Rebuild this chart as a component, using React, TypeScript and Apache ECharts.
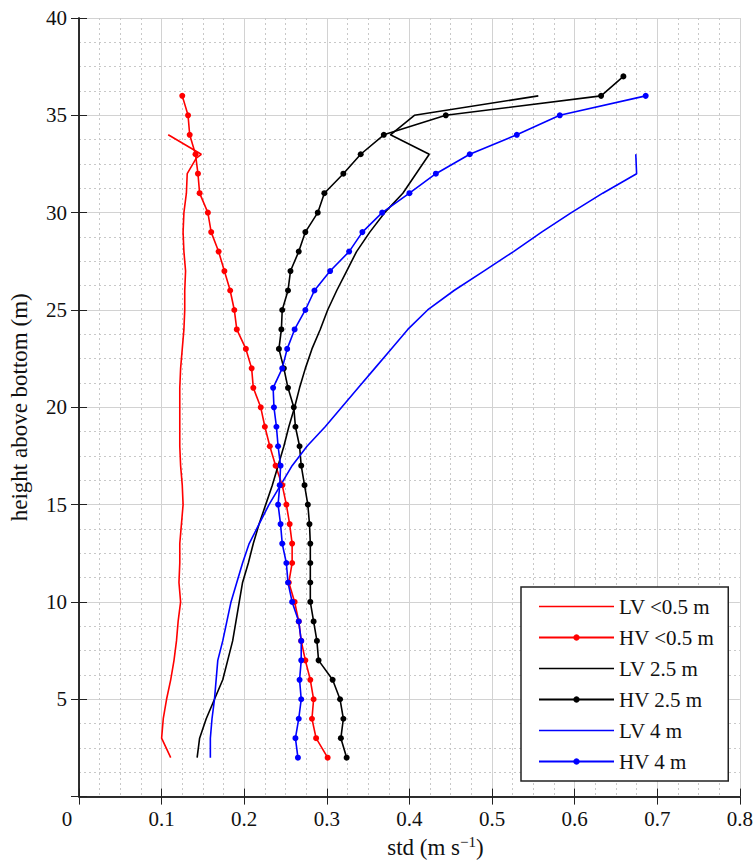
import React, { useEffect, useRef } from "react";
import * as echarts from "echarts";

// ---- data (std in m/s, height in m) ----
const lvRedHeights = [2, 3, 4, 5, 6, 7, 8, 9, 10, 11, 12, 13, 14, 15, 16, 17, 18, 19, 20, 21, 22, 23, 24, 25, 26, 27, 28, 29, 30, 31, 32, 32.8, 33, 34];
const lvRedStd = [0.111, 0.1, 0.102, 0.106, 0.111, 0.115, 0.118, 0.12, 0.123, 0.121, 0.122, 0.122, 0.124, 0.126, 0.125, 0.123, 0.122, 0.122, 0.122, 0.122, 0.123, 0.125, 0.127, 0.128, 0.128, 0.129, 0.127, 0.126, 0.127, 0.13, 0.131, 0.142, 0.148, 0.108];

const hvRedHeights = [2, 3, 4, 5, 6, 7, 8, 9, 10, 11, 12, 13, 14, 15, 16, 17, 18, 19, 20, 21, 22, 23, 24, 25, 26, 27, 28, 29, 30, 31, 32, 33, 34, 35, 36];
const hvRedStd = [0.301, 0.287, 0.282, 0.284, 0.28, 0.274, 0.269, 0.266, 0.261, 0.254, 0.258, 0.258, 0.255, 0.251, 0.246, 0.238, 0.231, 0.225, 0.22, 0.211, 0.209, 0.202, 0.191, 0.188, 0.183, 0.176, 0.169, 0.16, 0.156, 0.146, 0.144, 0.141, 0.134, 0.132, 0.125];

const lvBlackHeights = [2, 3, 4, 5, 6, 7, 8, 9, 10, 11, 12, 13, 14, 15, 16, 17, 18, 19, 20, 21, 22, 23, 24, 25, 26, 27, 28, 29, 30, 31, 32, 33, 34, 35, 36];
const lvBlackStd = [0.143, 0.146, 0.154, 0.164, 0.174, 0.18, 0.186, 0.19, 0.194, 0.198, 0.205, 0.211, 0.218, 0.226, 0.234, 0.241, 0.248, 0.254, 0.261, 0.267, 0.274, 0.282, 0.292, 0.301, 0.312, 0.324, 0.336, 0.352, 0.37, 0.392, 0.408, 0.424, 0.377, 0.406, 0.556];

const hvBlackHeights = [2, 3, 4, 5, 6, 7, 8, 9, 10, 11, 12, 13, 14, 15, 16, 17, 18, 19, 20, 21, 22, 23, 24, 25, 26, 27, 28, 29, 30, 31, 32, 33, 34, 35, 36, 37];
const hvBlackStd = [0.324, 0.317, 0.32, 0.316, 0.307, 0.29, 0.288, 0.284, 0.28, 0.28, 0.28, 0.28, 0.279, 0.277, 0.273, 0.269, 0.267, 0.262, 0.26, 0.253, 0.248, 0.242, 0.245, 0.246, 0.253, 0.256, 0.266, 0.274, 0.289, 0.297, 0.32, 0.341, 0.369, 0.444, 0.632, 0.659];

const lvBlueHeights = [2, 3, 4, 5, 6, 7, 8, 9, 10, 11, 12, 13, 14, 15, 16, 17, 18, 19, 20, 21, 22, 23, 24, 25, 26, 27, 28, 29, 30, 31, 32, 33];
const lvBlueStd = [0.159, 0.159, 0.161, 0.164, 0.166, 0.168, 0.174, 0.179, 0.184, 0.191, 0.198, 0.206, 0.218, 0.23, 0.244, 0.258, 0.276, 0.298, 0.318, 0.338, 0.358, 0.378, 0.398, 0.422, 0.454, 0.49, 0.526, 0.56, 0.596, 0.634, 0.675, 0.674];

const hvBlueHeights = [2, 3, 4, 5, 6, 7, 8, 9, 10, 11, 12, 13, 14, 15, 16, 17, 18, 19, 20, 21, 22, 23, 24, 25, 26, 27, 28, 29, 30, 31, 32, 33, 34, 35, 36];
const hvBlueStd = [0.265, 0.262, 0.266, 0.269, 0.267, 0.269, 0.269, 0.266, 0.258, 0.253, 0.251, 0.246, 0.244, 0.241, 0.243, 0.244, 0.241, 0.239, 0.236, 0.235, 0.246, 0.252, 0.261, 0.274, 0.285, 0.304, 0.327, 0.343, 0.367, 0.4, 0.432, 0.473, 0.53, 0.582, 0.686];

const seriesNames = ["LV <0.5 m", "HV <0.5 m", "LV 2.5 m", "HV 2.5 m", "LV 4 m", "HV 4 m"];
const xLabel = "std (m s{sup|−1})";
const yLabel = "height above bottom (m)";

const RED = "#ff0000";
const BLACK = "#000000";
const BLUE = "#0000ff";
const FONT = "'Liberation Serif', 'Times New Roman', serif";
const PLAIN_LINE_ICON = "path://M0,0L75,0L75,1.6L0,1.6Z";

const pairs = (xs: number[], ys: number[]) => xs.map((x, i) => [x, ys[i]]);

function lineSeries(name: string, color: string, data: number[][], markers: boolean) {
  return {
    name,
    type: "line",
    data,
    xAxisIndex: 0,
    yAxisIndex: 0,
    symbol: markers ? "circle" : "none",
    showSymbol: markers,
    symbolSize: 6,
    lineStyle: { color, width: 1.6 },
    itemStyle: { color },
    z: 3,
  };
}

export default function App() {
  const ref = useRef<HTMLDivElement>(null);
  useEffect(() => {
    if (!ref.current) return;
    const chart = echarts.init(ref.current, undefined, { renderer: "svg" });
    const axisLine = { show: true, lineStyle: { color: "#222", width: 1.5 } };
    const tick = { show: true, inside: true, length: 8, lineStyle: { color: "#222", width: 1 } };
    const legendData = seriesNames.map((n, i) => (i % 2 === 0 ? { name: n, icon: PLAIN_LINE_ICON } : { name: n }));
    const option: any = {
      animation: false,
      backgroundColor: "#ffffff",
      grid: { left: 74, right: 14, top: 18, bottom: 58 },
      xAxis: [
        {
          type: "value",
          min: 0,
          max: 0.8,
          interval: 0.1,
          position: "bottom",
          axisLine,
          axisTick: tick,
          axisLabel: {
            margin: 12,
            fontFamily: FONT,
            fontSize: 21,
            color: "#111",
            formatter: (v: number) => (v === 0 ? "{z|0}" : Number(v.toFixed(1)).toString()),
            rich: { z: { fontFamily: FONT, fontSize: 21, color: "#111", padding: [0, 24, 0, 0] } },
          },
          splitLine: { show: true, lineStyle: { color: "#d2d2d2", width: 1 } },
          minorTick: { show: false, splitNumber: 4 },
          minorSplitLine: { show: true, lineStyle: { color: "#c8c8c8", width: 1, type: [2, 3] } },
          name: xLabel,
          nameLocation: "middle",
          nameGap: 36,
          nameTextStyle: {
            fontFamily: FONT,
            fontSize: 23,
            color: "#111",
            padding: [0, 0, 0, 52],
            rich: { sup: { fontFamily: FONT, fontSize: 15, color: "#111", padding: [0, 0, 11, 0] } },
          },
        },
        {
          type: "value",
          min: 0,
          max: 0.8,
          interval: 0.1,
          position: "top",
          axisLine,
          axisTick: tick,
          axisLabel: { show: false },
          splitLine: { show: false },
        },
      ],
      yAxis: [
        {
          type: "value",
          min: 0,
          max: 40,
          interval: 5,
          position: "left",
          axisLine,
          axisTick: tick,
          axisLabel: {
            margin: 12,
            fontFamily: FONT,
            fontSize: 21,
            color: "#111",
            formatter: (v: number) => (v === 0 ? "" : String(v)),
          },
          splitLine: { show: true, lineStyle: { color: "#d2d2d2", width: 1 } },
          minorTick: { show: false, splitNumber: 4 },
          minorSplitLine: { show: true, lineStyle: { color: "#c8c8c8", width: 1, type: [2, 3] } },
          name: yLabel,
          nameLocation: "middle",
          nameGap: 48,
          nameTextStyle: { fontFamily: FONT, fontSize: 23, color: "#111" },
        },
        {
          type: "value",
          min: 0,
          max: 40,
          interval: 5,
          position: "right",
          axisLine,
          axisTick: tick,
          axisLabel: { show: false },
          splitLine: { show: false },
        },
      ],
      legend: {
        orient: "vertical",
        left: 521,
        top: 587,
        data: legendData,
        itemWidth: 75,
        itemHeight: 8,
        itemGap: 10,
        padding: [9, 14, 9, 17],
        backgroundColor: "#ffffff",
        borderColor: "#222",
        borderWidth: 1.5,
        textStyle: { fontFamily: FONT, fontSize: 21, color: "#111", lineHeight: 21 },
        z: 10,
      },
      series: [
        lineSeries(seriesNames[0], RED, pairs(lvRedStd, lvRedHeights), false),
        lineSeries(seriesNames[1], RED, pairs(hvRedStd, hvRedHeights), true),
        lineSeries(seriesNames[2], BLACK, pairs(lvBlackStd, lvBlackHeights), false),
        lineSeries(seriesNames[3], BLACK, pairs(hvBlackStd, hvBlackHeights), true),
        lineSeries(seriesNames[4], BLUE, pairs(lvBlueStd, lvBlueHeights), false),
        lineSeries(seriesNames[5], BLUE, pairs(hvBlueStd, hvBlueHeights), true),
      ],
    };
    chart.setOption(option);
    return () => chart.dispose();
  }, []);
  return <div ref={ref} style={{ width: 756, height: 864, position: "absolute", left: 0, top: 0 }} />;
}
